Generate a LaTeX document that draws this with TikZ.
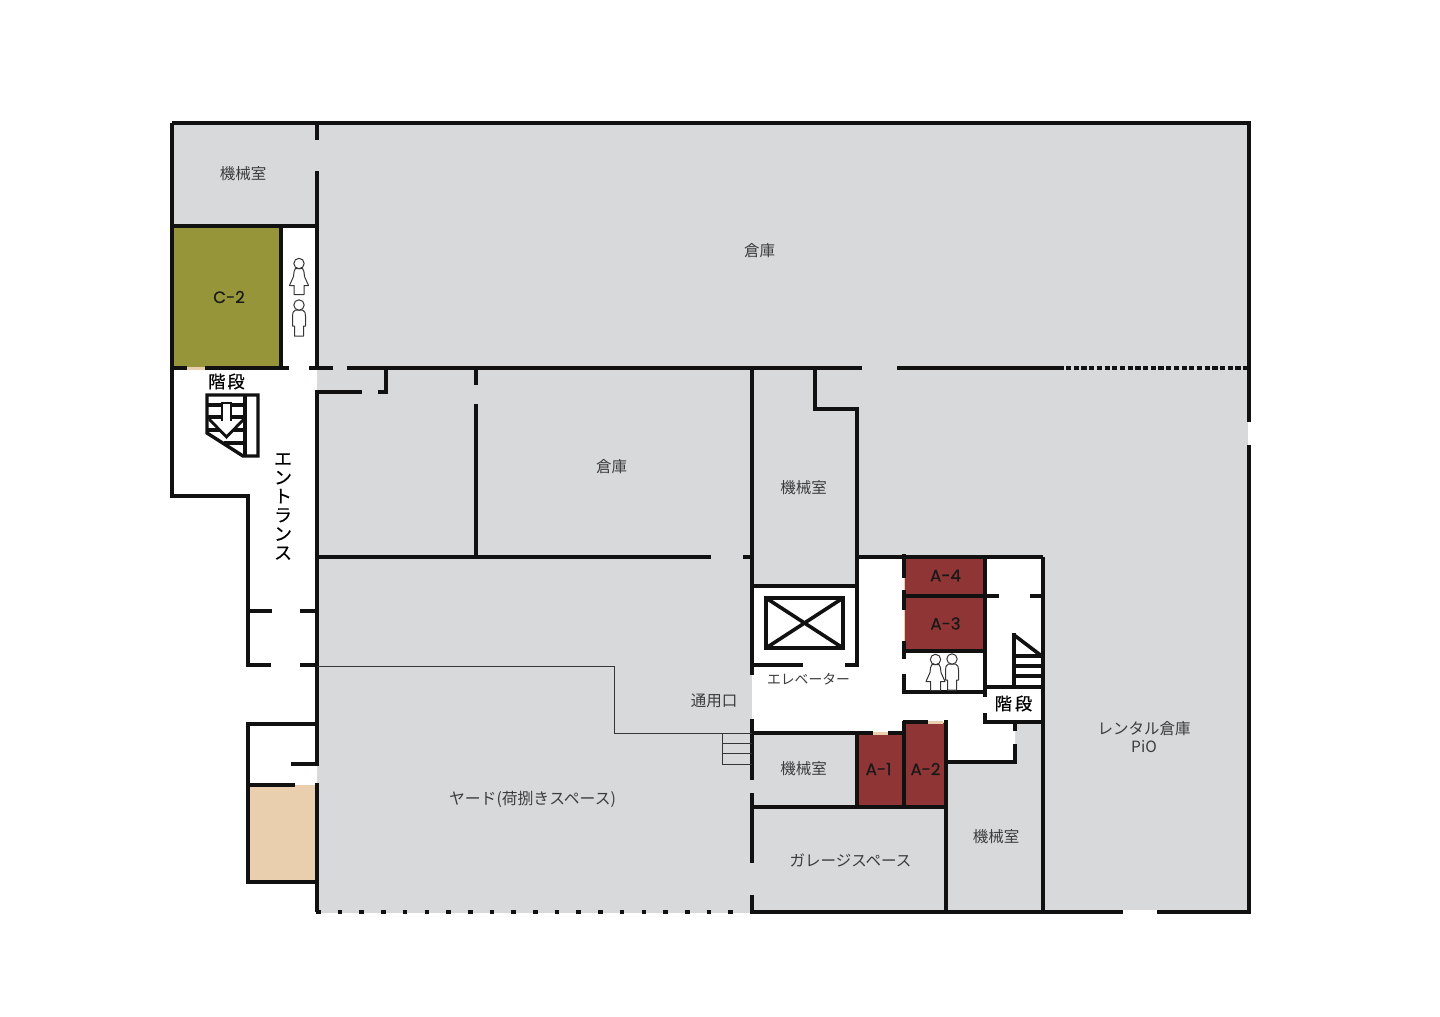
\documentclass[tikz,border=0pt]{standalone}
\usepackage{fontspec}
\setmainfont{Noto Sans CJK JP}
\newfontfamily\unitfont[FakeBold=0.5]{Poppins}
\newfontfamily\stairfont[FakeBold=0.6]{Noto Sans CJK JP}
\newfontfamily\entryfont[FakeBold=0.25]{Noto Sans CJK JP}
\definecolor{floorgray}{HTML}{D8D9DB}
\definecolor{roomred}{HTML}{903535}
\definecolor{roomolive}{HTML}{96953A}
\definecolor{roompeach}{HTML}{EACFAE}
\definecolor{wallblack}{HTML}{111111}
\definecolor{labelgray}{HTML}{3C3C3C}
\tikzset{
  wall/.style={draw=wallblack,line width=1.8pt,line cap=butt,line join=miter},
  thinwall/.style={draw=wallblack!85,line width=0.45pt},
  icon/.style={draw=wallblack!85,line width=0.5pt,fill=white,line join=round},
  roomlabel/.style={text=labelgray,font=\fontsize{7.75pt}{9.2pt}\selectfont,align=center,inner sep=0pt},
  unitlabel/.style={text=black!90,font=\unitfont\fontsize{8.3pt}{10pt}\selectfont,inner sep=0pt},
  stairlabel/.style={text=black,font=\stairfont\fontsize{8.6pt}{10pt}\selectfont,inner sep=0pt},
  entrylabel/.style={text=black,font=\entryfont\fontsize{9pt}{9.4pt}\selectfont,align=center,inner sep=0pt},
  femaleicon/.pic={
    \draw[icon] (-3.5,5) .. controls (-5,6) and (-5,9) .. (-5.5,13) -- (-9.5,22) -- (-5,22) -- (-5,31) -- (5,31) -- (5,22) -- (9.5,22) -- (5.5,13) .. controls (5,9) and (5,6) .. (3.5,5) -- cycle;
    \draw[icon] (0,0) circle[radius=5.2];
  },
  maleicon/.pic={
    \draw[icon] (-3.5,5) .. controls (-6,6) and (-6.5,8) .. (-6.5,11) -- (-6.5,21) -- (-4.5,21) -- (-4.5,31) -- (4.5,31) -- (4.5,21) -- (6.5,21) -- (6.5,11) .. controls (6.5,8) and (6,6) .. (3.5,5) -- cycle;
    \draw[icon] (0,0) circle[radius=5.2];
  }
}
\begin{document}
\begin{tikzpicture}[x=0.5pt,y=-0.5pt]
\useasboundingbox (0,0) rectangle (1440,1017);
% floors
\fill[floorgray] (172,123) rectangle (317,226);
\fill[floorgray] (317,123) rectangle (1249,913);
\fill[white] (857,557) -- (1043,557) -- (1043,722) -- (1015,722) -- (1015,762) -- (946,762) -- (946,722) -- (904,722) -- (904,733) -- (752,733) -- (752,586) -- (857,586) -- cycle;
\fill[white] (1247.5,422) rectangle (1251,445);
\fill[white] (1123,910) rectangle (1157,914);
% coloured rooms
\fill[roomolive] (172,227) rectangle (281,368);
\fill[roompeach] (187,366.5) rectangle (206,369.5);
\filldraw[fill=roompeach,draw=none] (248,785) rectangle (317,881);
\filldraw[fill=roomred,draw=roompeach,line width=0.35pt] (904,558) rectangle (985,596);
\filldraw[fill=roomred,draw=roompeach,line width=0.35pt] (904,596) rectangle (985,651);
\filldraw[fill=roomred,draw=roompeach,line width=0.35pt] (857,733) rectangle (904,807);
\filldraw[fill=roomred,draw=roompeach,line width=0.35pt] (904,722) rectangle (946,807);
\fill[roompeach] (873,731.5) rectangle (888,734.5);
\fill[roompeach] (928,720.5) rectangle (943,723.5);
% outer walls
\draw[wall] (172,123) -- (1249,123) -- (1249,422);
\draw[wall] (1249,445) -- (1249,912) -- (1157,912);
\draw[wall] (1123,912) -- (752,912) -- (752,895);
\draw[wall] (172,123) -- (172,368);
\draw[wall] (172,368) -- (172,496) -- (248,496) -- (248,665) -- (271,665);
\draw[wall] (248,611) -- (272,611);
\draw[wall] (300,611) -- (317,611);
\draw[wall] (300,665) -- (317,665);
\draw[wall] (172,226) -- (317,226);
\draw[wall] (317,123) -- (317,140);
\draw[wall] (317,171) -- (317,368);
\draw[wall] (281,226) -- (281,368);
% y=368 line
\draw[wall] (172,368) -- (187,368);
\draw[wall] (205,368) -- (289,368);
\draw[wall] (309,368) -- (333,368);
\draw[wall] (347,368) -- (862,368);
\draw[wall] (897,368) -- (1064,368);
\draw[wall,dash pattern=on 2.6pt off 1.25pt] (1066,368) -- (1249,368);
% corridor west wall
\draw[wall] (362,392) -- (317,392) -- (317,764) -- (291,764);
\draw[wall] (317,783) -- (317,912);
\draw[wall,line width=2pt,dash pattern=on 2.3pt off 8.55pt] (316,912) -- (752,912);
\draw[wall] (378,392) -- (386,392) -- (386,368);
\draw[wall] (476,368) -- (476,385);
\draw[wall] (476,404) -- (476,557);
\draw[wall] (317,557) -- (711,557);
\draw[wall] (743,557) -- (752,557);
% south-west annex
\draw[wall] (317,724) -- (248,724) -- (248,882) -- (317,882);
\draw[wall] (248,785) -- (295,785);
% central spine
\draw[wall] (752,368) -- (752,675);
\draw[wall] (752,719) -- (752,780);
\draw[wall] (752,793) -- (752,863);
\draw[wall] (752,586) -- (857,586);
\draw[wall] (752,665) -- (803,665);
\draw[wall] (845,665) -- (857,665) -- (857,409) -- (815,409) -- (815,368);
\draw[wall] (857,557) -- (1043,557);
\draw[wall] (1043,557) -- (1043,912);
% elevator
\draw[wall] (766,598) rectangle (843,648);
\draw[wall] (766,598) -- (843,648);
\draw[wall] (766,648) -- (843,598);
% toilets and shops
\draw[wall] (904,554) -- (904,578);
\draw[wall] (904,590) -- (904,610);
\draw[wall] (904,641) -- (904,659);
\draw[wall] (904,674) -- (904,692) -- (985,692);
\draw[wall] (904,651) -- (985,651);
\draw[wall] (904,596) -- (999,596);
\draw[wall] (1030,596) -- (1043,596);
\draw[wall] (985,557) -- (985,697);
\draw[wall] (985,713) -- (985,722) -- (1043,722);
\draw[wall] (985,687) -- (1043,687);
\draw[wall] (1014,633) -- (1014,687);
\draw[wall] (1014,635) -- (1043,657);
\draw[wall] (1014,656) -- (1043,656);
\draw[wall] (1014,666) -- (1043,666);
\draw[wall] (1014,676) -- (1043,676);
\draw[wall] (1015,722) -- (1015,731);
\draw[wall] (1015,744) -- (1015,762) -- (946,762);
\draw[wall] (904,733) -- (888,733);
\draw[wall] (873,733) -- (752,733);
\draw[wall] (857,733) -- (857,807);
\draw[wall] (904,807) -- (904,720.5);
\draw[wall] (903,722) -- (928,722);
\draw[wall] (946,720) -- (946,912);
\draw[wall] (752,807) -- (948,807);
% thin service line and steps
\draw[thinwall] (317,666) -- (614,666) -- (614,733) -- (752,733);
\draw[thinwall] (722,733) -- (722,764) -- (752,764);
\draw[thinwall] (722,743) -- (752,743);
\draw[thinwall] (722,753.5) -- (752,753.5);
% entrance stair
\draw[wall,line width=1.7pt] (207,395) -- (258,395) -- (258,456) -- (243,456) -- (207,433) -- cycle;
\draw[wall,line width=1.7pt] (245,395) -- (245,456);
\draw[wall,line width=1.7pt] (207,405) -- (245,405);
\draw[wall,line width=1.7pt] (207,417) -- (245,417);
\draw[wall,line width=1.7pt] (207,430) -- (245,430);
\draw[wall,line width=1.7pt] (224,443) -- (245,443);
\fill[white] (222,403) -- (231,403) -- (231,420) -- (243,420) -- (226.5,437) -- (210,420) -- (222,420) -- cycle;
\draw[wall,line width=1.4pt] (222,421) -- (222,403) -- (231,403) -- (231,421);
\draw[wall,line width=1.4pt] (209,419) -- (226.5,437) -- (244,419);
% icons
\pic at (299,263.5) {femaleicon};
\pic at (299,305) {maleicon};
\pic at (935.5,659.5) {femaleicon};
\pic at (952,659) {maleicon};
% labels
\node[roomlabel] (mr1) at (243,174) {機械室};
\node[roomlabel] (st1) at (759.5,251) {倉庫};
\node[roomlabel] (st2) at (611.5,466.5) {倉庫};
\node[roomlabel] (mr2) at (803.5,488) {機械室};
\node[roomlabel] (gate) at (714,700.5) {通用口};
\node[roomlabel,font=\fontsize{6.9pt}{8pt}\selectfont] (ev) at (808.5,679) {エレベーター};
\node[roomlabel] (mr3) at (803.5,768.5) {機械室};
\node[roomlabel] (mr4) at (996,837) {機械室};
\node[roomlabel] (gar) at (850.5,860.5) {ガレージスペース};
\node[roomlabel,font=\fontsize{7.9pt}{9.2pt}\selectfont] (yard) at (532.5,799.5) {ヤード(荷捌きスペース)};
\node[roomlabel] (pio) at (1144,737) {レンタル倉庫\\PiO};
\node[unitlabel] (c2) at (229,297) {C-2};
\node[unitlabel] (a4) at (945.5,575.5) {A-4};
\node[unitlabel] (a3) at (945.5,623.5) {A-3};
\node[unitlabel] (a1) at (878.5,769) {A-1};
\node[unitlabel] (a2) at (925.5,769) {A-2};
\node[stairlabel] (stl) at (226.5,381.5) {階\hspace{1pt}段};
\node[stairlabel] (str) at (1013.5,703.5) {階\hspace{1.5pt}段};
\node[entrylabel] (ent) at (283,506.5) {エ\\ン\\ト\\ラ\\ン\\ス};
\end{tikzpicture}
\end{document}
